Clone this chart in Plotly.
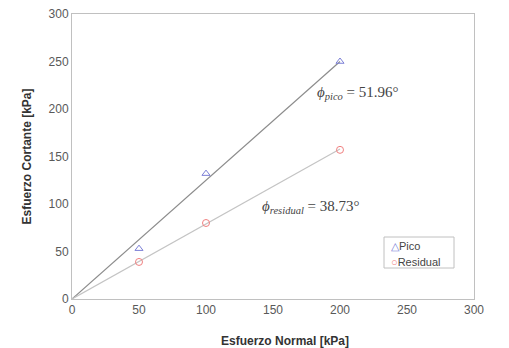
import plotly.graph_objects as go

normal = [50, 100, 200]
pico = [53, 132, 250]
residual = [39, 80, 157]
line_x = [0, 200]
pico_line = [0, 250]
residual_line = [0, 158]
ticks = [0, 50, 100, 150, 200, 250, 300]

W, H = 509, 348
L, R, T, B = 72, 35, 14, 49
PW, PH = W - L - R, H - T - B

def px(x):
    return (x - L) / PW

def py(y):
    return (H - B - y) / PH

fig = go.Figure()
fig.add_trace(go.Scatter(x=line_x, y=pico_line, mode="lines",
                         line=dict(color="#8c8c8c", width=1.2), showlegend=False, hoverinfo="skip"))
fig.add_trace(go.Scatter(x=line_x, y=residual_line, mode="lines",
                         line=dict(color="#c4c4c4", width=1.2), showlegend=False, hoverinfo="skip"))
fig.add_trace(go.Scatter(x=normal, y=pico, mode="markers", name="Pico", showlegend=False,
                         marker=dict(symbol="triangle-up-open", size=7, color="#7b7fd6", line=dict(width=1))))
fig.add_trace(go.Scatter(x=normal, y=residual, mode="markers", name="Residual", showlegend=False,
                         marker=dict(symbol="circle-open", size=7, color="#f08080", line=dict(width=1))))

fig.add_annotation(x=181, y=217, xref="x", yref="y", xanchor="left", yanchor="middle",
                   text="<i>ϕ<sub>pico</sub></i> = 51.96°", showarrow=False,
                   font=dict(family="Liberation Serif", size=15, color="#444"))
fig.add_annotation(x=140, y=97, xref="x", yref="y", xanchor="left", yanchor="middle",
                   text="<i>ϕ<sub>residual</sub></i> = 38.73°", showarrow=False,
                   font=dict(family="Liberation Serif", size=15, color="#444"))
fig.add_annotation(x=px(285), y=py(341), xref="paper", yref="paper", xanchor="center", yanchor="middle",
                   text="<b>Esfuerzo Normal [kPa]</b>", showarrow=False,
                   font=dict(family="Liberation Sans", size=12, color="#333"))

# legend box
fig.add_shape(type="rect", xref="paper", yref="paper", x0=px(384), x1=px(454), y0=py(268), y1=py(237),
              line=dict(color="#c0c0c0", width=1), fillcolor="white")
legend_items = [("Pico", "△", "#7b7fd6", 246), ("Residual", "○", "#f08080", 262)]
for name, sym, col, yy in legend_items:
    fig.add_annotation(x=px(389), y=py(yy), xref="paper", yref="paper", xanchor="left", yanchor="middle",
                       text=f"<span style='color:{col}'>{sym}</span>{name}", showarrow=False,
                       font=dict(family="Liberation Sans", size=11, color="#444"))

fig.update_layout(
    width=W, height=H,
    margin=dict(l=L, r=R, t=T, b=B),
    paper_bgcolor="white", plot_bgcolor="white",
    font=dict(family="Liberation Sans", size=12, color="#595959"),
    showlegend=False,
    xaxis=dict(range=[0, 300], tickvals=ticks, showgrid=False, zeroline=False, automargin=False,
               showline=True, linecolor="#c0c0c0", mirror=True, ticks="",
               tickfont=dict(size=12, color="#595959")),
    yaxis=dict(range=[0, 300], tickvals=ticks, showgrid=False, zeroline=False, automargin=False,
               showline=True, linecolor="#c0c0c0", mirror=True, ticks="",
               tickfont=dict(size=12, color="#595959"),
               title=dict(text="<b>Esfuerzo Cortante [kPa]</b>", font=dict(size=12, color="#333"), standoff=14)),
)
fig.write_html("out.html", config={"displayModeBar": False})
with open("out.html", encoding="utf-8") as f:
    html = f.read()
html = html.replace("<head>", "<head><style>html,body{margin:0;padding:0;overflow:hidden;}</style>", 1)
with open("out.html", "w", encoding="utf-8") as f:
    f.write(html)
